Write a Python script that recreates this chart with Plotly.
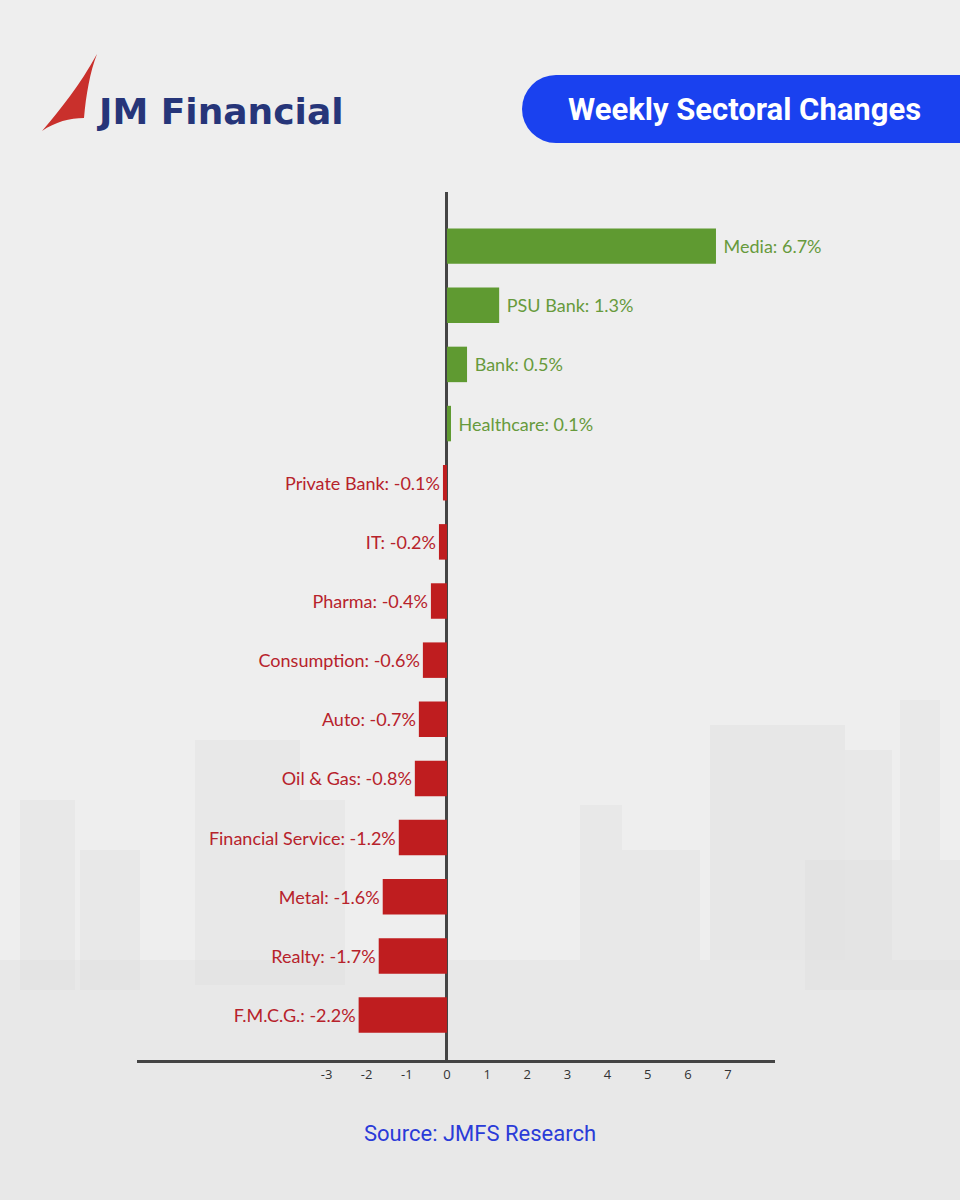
import plotly.graph_objects as go

# ---- data ----
sectors = ["Media", "PSU Bank", "Bank", "Healthcare", "Private Bank", "IT", "Pharma",
           "Consumption", "Auto", "Oil & Gas", "Financial Service", "Metal", "Realty", "F.M.C.G."]
changes = [6.7, 1.3, 0.5, 0.1, -0.1, -0.2, -0.4, -0.6, -0.7, -0.8, -1.2, -1.6, -1.7, -2.2]
tick_values = [-3, -2, -1, 0, 1, 2, 3, 4, 5, 6, 7]
tick_labels = ["-3", "-2", "-1", "0", "1", "2", "3", "4", "5", "6", "7"]
title_text = "Weekly Sectoral Changes"
brand_text = "JM Financial"
source_text = "Source: JMFS Research"

# ---- styling ----
GREEN_BAR, GREEN_TXT = "#5f9a31", "#679a3c"
RED_BAR, RED_TXT = "#bf1d1f", "#b7222b"
NAVY, BLUE = "#263579", "#1a41ef"

W, H = 960, 1200
L, R, T, B = 137, 775, 192, 1060


def px(x):
    return (x - L) / (R - L)


def py(y):
    return 1 - (y - T) / (B - T)


bar_colors = [GREEN_BAR if v >= 0 else RED_BAR for v in changes]
txt_colors = [GREEN_TXT if v >= 0 else RED_TXT for v in changes]
labels = [(f" {s}: {v}%" if v >= 0 else f"{s}: {v}%") for s, v in zip(sectors, changes)]

fig = go.Figure(go.Bar(
    x=changes, y=sectors, orientation="h",
    marker=dict(color=bar_colors, line=dict(width=0)),
    text=labels, textposition="outside", cliponaxis=False,
    textfont=dict(family="Lato, Nunito, sans-serif", size=18, color=txt_colors),
    hoverinfo="skip",
))

shapes = []
# soft background skyline
bg = "#dcdcdc"
for (x0, y0, x1, y1, op) in [
    (0, 960, 960, 1200, 0.35), (20, 800, 75, 990, 0.35), (80, 850, 140, 990, 0.3),
    (195, 740, 300, 985, 0.35), (300, 800, 345, 985, 0.3), (580, 805, 622, 960, 0.35),
    (622, 850, 700, 960, 0.3), (710, 725, 845, 960, 0.4), (845, 750, 892, 960, 0.35),
    (805, 860, 960, 990, 0.3), (900, 700, 940, 860, 0.25)]:
    shapes.append(dict(type="rect", xref="paper", yref="paper", layer="below",
                       x0=px(x0), x1=px(x1), y0=py(y1), y1=py(y0),
                       fillcolor=bg, opacity=op, line=dict(width=0)))

# logo sail
pts = [("M", [(97, 54)]), ("C", [(80, 85), (60, 110), (42, 131)]),
       ("C", [(55, 122), (70, 118), (84, 118)]), ("C", [(86, 95), (90, 72), (97, 54)])]
path = ""
for cmd, ps in pts:
    path += cmd + " " + " ".join(f"{px(a):.5f},{py(b):.5f}" for a, b in ps) + " "
path += "Z"
shapes.append(dict(type="path", xref="paper", yref="paper", path=path,
                   fillcolor="#c9302c", line=dict(width=0)))

# title pill
shapes.append(dict(type="circle", xref="paper", yref="paper",
                   x0=px(522), x1=px(590), y0=py(143), y1=py(75),
                   fillcolor=BLUE, line=dict(width=0)))
shapes.append(dict(type="rect", xref="paper", yref="paper",
                   x0=px(556), x1=px(975), y0=py(143), y1=py(75),
                   fillcolor=BLUE, line=dict(width=0)))

annotations = [
    dict(text=f"<b>{brand_text}</b>", x=px(94), y=py(112), xref="paper", yref="paper",
         xanchor="left", yanchor="middle", showarrow=False,
         font=dict(family="DejaVu Sans, sans-serif", size=36, color=NAVY)),
    dict(text=f"<b>{title_text}</b>", x=px(744), y=py(109), xref="paper", yref="paper",
         xanchor="center", yanchor="middle", showarrow=False,
         font=dict(family="Roboto, sans-serif", size=31, color="white")),
    dict(text=source_text, x=px(480), y=py(1133), xref="paper", yref="paper",
         xanchor="center", yanchor="middle", showarrow=False,
         font=dict(family="Roboto, sans-serif", size=22, color="#2a3bd8")),
]

fig.update_layout(
    width=W, height=H,
    margin=dict(l=L, r=W - R, t=T, b=H - B, pad=0),
    paper_bgcolor="#eeeeee", plot_bgcolor="rgba(0,0,0,0)",
    showlegend=False, bargap=0.4,
    shapes=shapes, annotations=annotations,
    xaxis=dict(range=[-7.72, 8.17], tickvals=tick_values, ticktext=tick_labels,
               showgrid=False, zeroline=True, zerolinecolor="#444444", zerolinewidth=3,
               showline=True, linecolor="#444444", linewidth=3, ticks="",
               tickfont=dict(family="Open Sans, sans-serif", size=13, color="#333333"),
               fixedrange=True),
    yaxis=dict(type="category", categoryorder="array", categoryarray=sectors,
               range=[13.76, -0.915], showgrid=False, zeroline=False,
               showticklabels=False, ticks="", showline=False, fixedrange=True),
)

fig.write_html("out.html", config={"displayModeBar": False},
               post_script="document.body.style.margin='0';document.body.style.overflow='hidden';")
